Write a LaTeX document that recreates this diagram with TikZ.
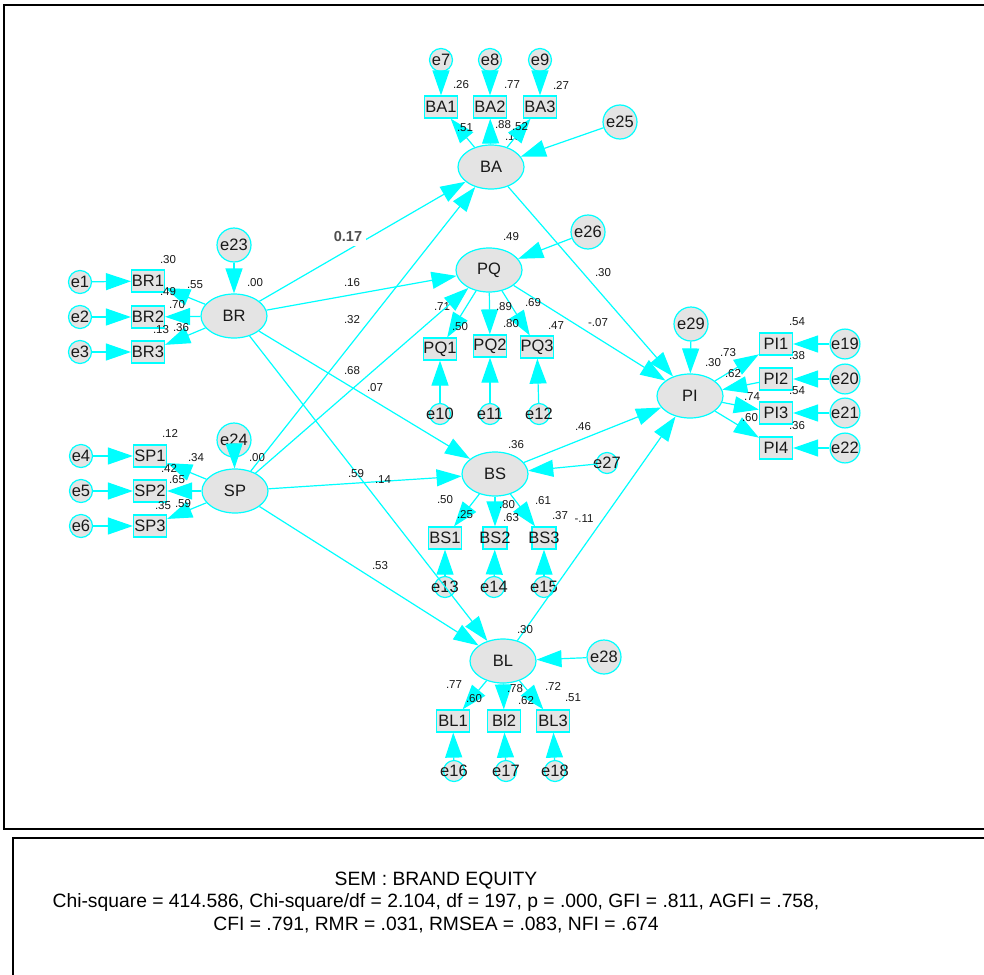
\documentclass[tikz,border=0pt]{standalone}
\usepackage{fontspec}
\setmainfont{Liberation Sans}
\usetikzlibrary{arrows.meta,shapes.geometric}
\definecolor{cy}{RGB}{0,255,255}
\definecolor{nf}{RGB}{228,228,228}
\definecolor{tx}{RGB}{25,25,25}
\definecolor{gy}{RGB}{80,80,80}
\begin{document}
\begin{tikzpicture}[x=1pt,y=-1pt,
  bigfont/.style={font=\fontsize{16.5}{16.5}\selectfont, text=tx},
  lat/.style={ellipse, draw=cy, fill=nf, line width=1.2pt, minimum width=66pt, minimum height=44pt, inner sep=0pt, bigfont},
  obs/.style={rectangle, draw=cy, fill=nf, line width=1.2pt, minimum width=33pt, minimum height=22pt, inner sep=0pt, bigfont},
  obsn/.style={obs, minimum width=24pt},
  err/.style={circle, draw=cy, fill=nf, line width=1.2pt, minimum size=23pt, inner sep=0pt, bigfont},
  errs/.style={err, minimum size=21pt},
  errb/.style={err, minimum size=34pt},
  num/.style={font=\fontsize{11.5}{11.5}\selectfont, text=tx, inner sep=0pt},
  arr/.style={draw=cy, line width=1.2pt, -{Triangle[length=25pt,width=17pt]}},
  frame/.style={draw=black, line width=2pt}
]
\useasboundingbox (0,0) rectangle (984,974);
\draw[frame] (4,5) rectangle (995,829);
\draw[frame] (13,838) rectangle (995,990);

% latent variables
\node[lat] (BA) at (491,167) {BA};
\node[lat] (PQ) at (489,270) {PQ};
\node[lat] (BR) at (234,316) {BR};
\node[lat] (SP) at (235,491) {SP};
\node[lat] (BS) at (495,474) {BS};
\node[lat] (BL) at (503,661) {BL};
\node[lat] (PI) at (690,396) {PI};

% BA indicators
\node[err] (e7) at (441,60) {e7};
\node[err] (e8) at (490,60) {e8};
\node[err] (e9) at (540,60) {e9};
\node[obs] (BA1) at (441,107) {BA1};
\node[obs] (BA2) at (490,107) {BA2};
\node[obs] (BA3) at (540,107) {BA3};
\node[errb] (e25) at (620,122) {e25};

% BR indicators
\node[err] (e1) at (80,282) {e1};
\node[err] (e2) at (80,317) {e2};
\node[err] (e3) at (80,352) {e3};
\node[obs] (BR1) at (148,281) {BR1};
\node[obs] (BR2) at (148,317) {BR2};
\node[obs] (BR3) at (148,352) {BR3};
\node[errb] (e23) at (234,245) {e23};

% SP indicators
\node[err] (e4) at (81,456) {e4};
\node[err] (e5) at (81,491) {e5};
\node[err] (e6) at (81,526) {e6};
\node[obs] (SP1) at (150,456) {SP1};
\node[obs] (SP2) at (150,491) {SP2};
\node[obs] (SP3) at (150,526) {SP3};
\node[errb] (e24) at (234,440) {e24};

% PQ indicators
\node[obs] (PQ1) at (440,349) {PQ1};
\node[obs] (PQ2) at (490,346) {PQ2};
\node[obs] (PQ3) at (537,347) {PQ3};
\node[errs] (e10) at (440,414) {\makebox[0pt]{e10}};
\node[errs] (e11) at (490,414) {\makebox[0pt]{e11}};
\node[errs] (e12) at (539,414) {\makebox[0pt]{e12}};
\node[errb] (e26) at (588,232) {e26};

% BS indicators
\node[obs] (BS1) at (445,538) {BS1};
\node[obsn] (BS2) at (495,538) {\makebox[0pt]{BS2}};
\node[obsn] (BS3) at (544,538) {\makebox[0pt]{BS3}};
\node[errs] (e13) at (445,587) {\makebox[0pt]{e13}};
\node[errs] (e14) at (494,587) {\makebox[0pt]{e14}};
\node[errs] (e15) at (544,587) {\makebox[0pt]{e15}};
\node[errs] (e27) at (607,463) {\makebox[0pt]{e27}};

% BL indicators
\node[obs] (BL1) at (453,721) {BL1};
\node[obs] (BL2) at (504,721) {Bl2};
\node[obs] (BL3) at (553,721) {BL3};
\node[errs] (e16) at (454,771) {\makebox[0pt]{e16}};
\node[errs] (e17) at (506,771) {\makebox[0pt]{e17}};
\node[errs] (e18) at (555,771) {\makebox[0pt]{e18}};
\node[errb] (e28) at (604,657) {e28};

% PI indicators
\node[errb] (e29) at (691,324) {e29};
\node[obs] (PI1) at (776,344) {PI1};
\node[obs] (PI2) at (776,379) {PI2};
\node[obs] (PI3) at (776,413) {PI3};
\node[obs] (PI4) at (776,448) {PI4};
\node[err, minimum size=25pt] (e19) at (845,344) {e19};
\node[err, minimum size=25pt] (e20) at (845,379) {e20};
\node[err, minimum size=25pt] (e21) at (845,413) {e21};
\node[err, minimum size=25pt] (e22) at (845,448) {e22};

% labels partly hidden below arrows
\node[num] at (442,307) {.71};
\node[num] at (513,137) {.13};

% error -> indicator
\foreach \a/\b in {e7/BA1,e8/BA2,e9/BA3,e1/BR1,e2/BR2,e3/BR3,e4/SP1,e5/SP2,e6/SP3,
  e10/PQ1,e11/PQ2,e12/PQ3,e13/BS1,e14/BS2,e15/BS3,e16/BL1,e17/BL2,e18/BL3,
  e19/PI1,e20/PI2,e21/PI3,e22/PI4,
  e25/BA,e23/BR,e24/SP,e26/PQ,e27/BS,e28/BL,e29/PI}
  \path[arr] (\a) -- (\b);

% latent -> indicator
\foreach \a/\b in {BA/BA1,BA/BA2,BA/BA3,BR/BR1,BR/BR2,BR/BR3,SP/SP1,SP/SP2,SP/SP3,
  PQ/PQ1,PQ/PQ2,PQ/PQ3,BS/BS1,BS/BS2,BS/BS3,BL/BL1,BL/BL2,BL/BL3,
  PI/PI1,PI/PI3,PI/PI4}
  \path[arr] (\a) -- (\b);
\path[arr] (PI2) -- (PI);

% structural paths
\foreach \a/\b in {BR/BA,BR/PQ,BR/BS,BR/BL,SP/BA,SP/PQ,SP/BS,SP/BL,BA/PI,PQ/PI,BS/PI,BL/PI}
  \path[arr] (\a) -- (\b);

% structural labels
\node[fill=white, inner sep=4pt, font=\bfseries\fontsize{14.5}{14.5}\selectfont, text=gy] at (348,237) {0.17};
\node[num] at (352,283) {.16};
\node[num] at (352,320) {.32};
\node[num] at (352,371) {.68};
\node[num] at (375,388) {.07};
\node[num] at (356,474) {.59};
\node[num] at (383,480) {.14};
\node[num] at (380,566) {.53};
\node[num] at (603,273) {.30};
\node[num] at (598,323) {-.07};
\node[num] at (583,427) {.46};
\node[num] at (584,519) {-.11};

% BA labels
\node[num] at (461,85) {.26};
\node[num] at (512,85) {.77};
\node[num] at (561,85) {.27};
\node[num] at (465,128) {.51};
\node[num] at (503,125) {.88};
\node[num] at (520,127) {.52};

% BR labels
\node[num] at (168,260) {.30};
\node[num] at (195,285) {.55};
\node[num] at (168,292) {.49};
\node[num] at (177,305) {.70};
\node[num] at (255,283) {.00};
\node[num] at (161,330) {.13};
\node[num] at (181,328) {.36};

% SP labels
\node[num] at (170,433) {.12};
\node[num] at (196,458) {.34};
\node[num] at (169,468) {.42};
\node[num] at (177,480) {.65};
\node[num] at (163,506) {.35};
\node[num] at (183,504) {.59};
\node[num] at (257,458) {.00};

% PQ labels
\node[num] at (511,237) {.49};
\node[num] at (460,327) {.50};
\node[num] at (504,307) {.89};
\node[num] at (511,324) {.80};
\node[num] at (533,303) {.69};
\node[num] at (556,326) {.47};

% BS labels
\node[num] at (516,445) {.36};
\node[num] at (445,500) {.50};
\node[num] at (465,515) {.25};
\node[num] at (507,505) {.80};
\node[num] at (511,518) {.63};
\node[num] at (543,501) {.61};
\node[num] at (560,516) {.37};

% BL labels
\node[num] at (525,630) {.30};
\node[num] at (454,685) {.77};
\node[num] at (474,699) {.60};
\node[num] at (515,689) {.78};
\node[num] at (526,701) {.62};
\node[num] at (553,686) {.72};
\node[num] at (573,698) {.51};

% PI labels
\node[num] at (797,322) {.54};
\node[num] at (728,353) {.73};
\node[num] at (713,363) {.30};
\node[num] at (797,356) {.38};
\node[num] at (733,374) {.62};
\node[num] at (797,391) {.54};
\node[num] at (752,397) {.74};
\node[num] at (797,426) {.36};
\node[num] at (750,418) {.60};

% fit statistics
\node[align=center, font=\fontsize{19.3}{22.5}\selectfont, text=black, inner sep=0pt] (stats) at (436,902)
  {SEM : BRAND EQUITY\\
   Chi-square = 414.586, Chi-square/df = 2.104, df = 197, p = .000, GFI = .811, AGFI = .758,\\
   CFI = .791, RMR = .031, RMSEA = .083, NFI = .674};
\end{tikzpicture}
\end{document}
